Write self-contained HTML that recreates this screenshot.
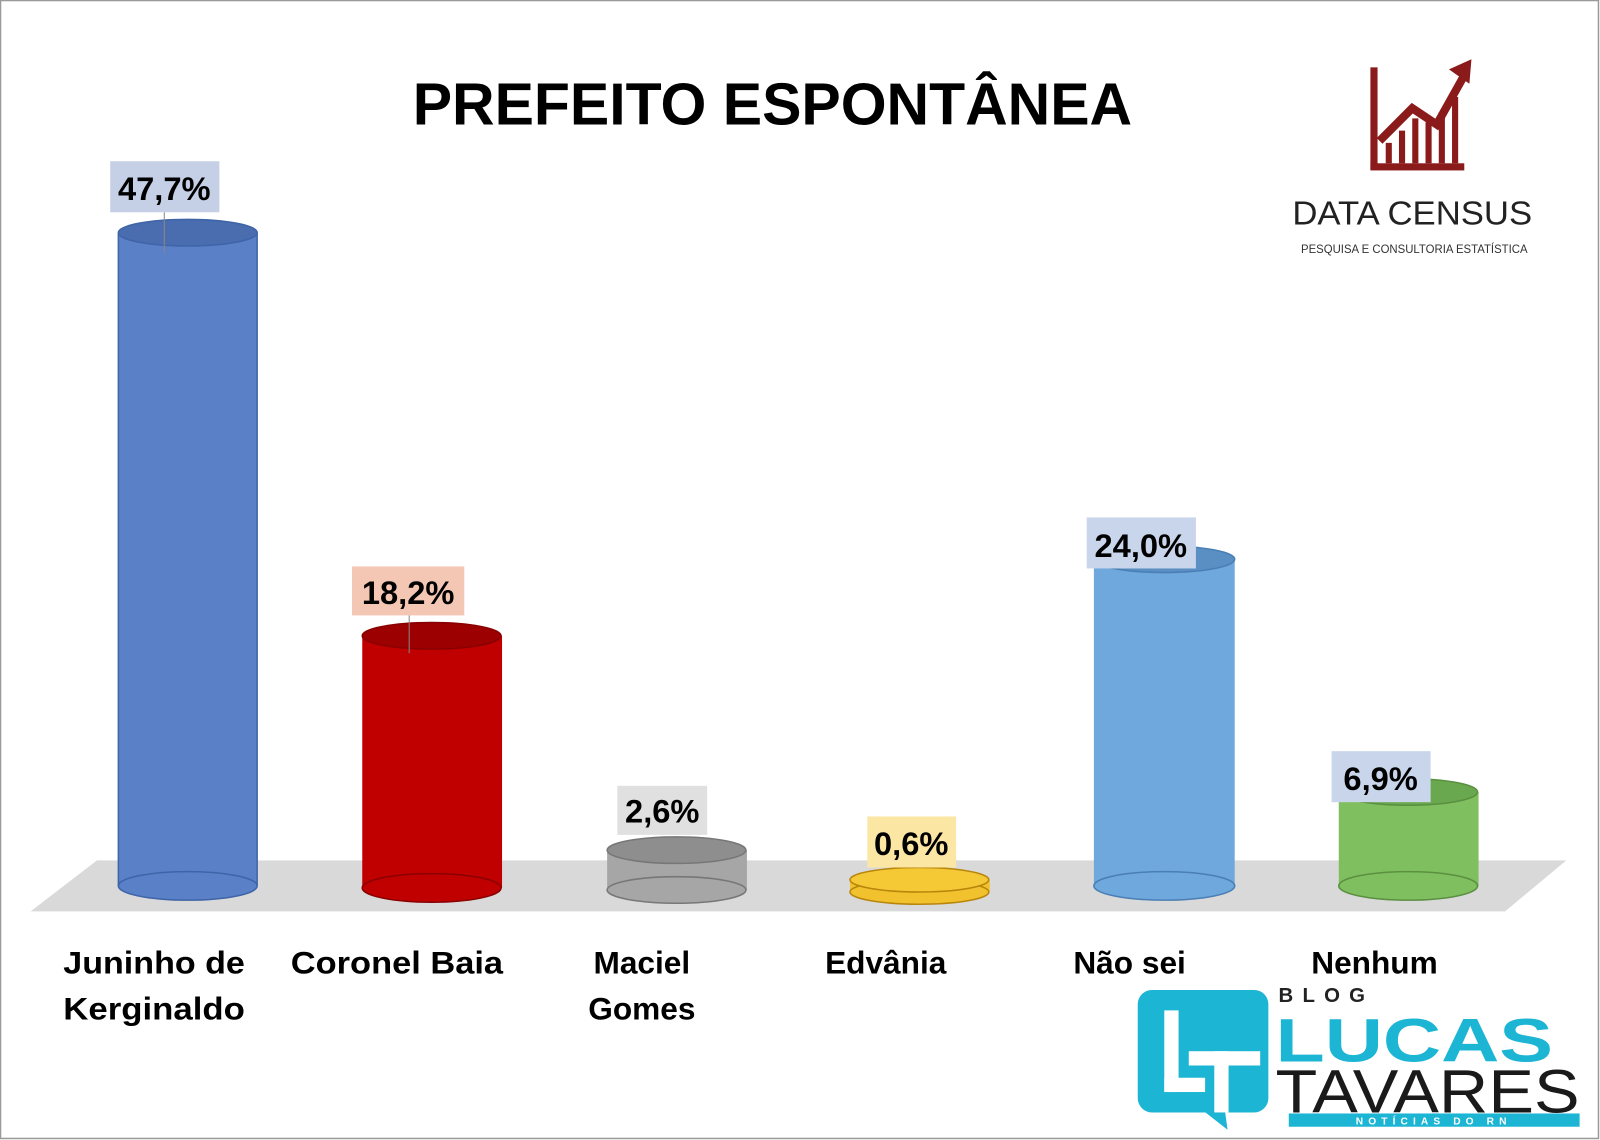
<!DOCTYPE html>
<html><head><meta charset="utf-8"><style>
html,body{margin:0;padding:0;background:#fff}
svg{display:block}
</style></head><body>
<svg width="1600" height="1140" viewBox="0 0 1568 1117" preserveAspectRatio="none" xmlns="http://www.w3.org/2000/svg" font-family="'Liberation Sans', sans-serif">
<rect x="0.5" y="0.5" width="1566" height="1115" fill="#fff" stroke="#9a9a9a" stroke-width="1.5"/>
<text x="757" y="122" text-anchor="middle" font-size="58" font-weight="bold" textLength="705" lengthAdjust="spacingAndGlyphs">PREFEITO ESPONTÂNEA</text>
<polygon points="95,843 1535,843 1475,893 30,893" fill="#d9d9d9"/>
<g stroke-width="1.5">
<rect x="116" y="228" width="136" height="640" fill="#5a80c8"/>
<ellipse cx="184" cy="868" rx="68" ry="14" fill="#5a80c8" stroke="#3f64a8"/>
<ellipse cx="184" cy="228" rx="68" ry="13" fill="#4a6db0" stroke="#3f64a8"/>
<line x1="116" y1="228" x2="116" y2="868" stroke="#3f64a8"/><line x1="252" y1="228" x2="252" y2="868" stroke="#3f64a8"/>

<rect x="355" y="623" width="137" height="247" fill="#c00000"/>
<ellipse cx="423" cy="870" rx="68" ry="14" fill="#c00000" stroke="#8a0000"/>
<ellipse cx="423" cy="623" rx="68" ry="13" fill="#9c0000" stroke="#8a0000"/>

<rect x="595" y="833" width="137" height="39" fill="#a6a6a6"/>
<ellipse cx="663" cy="872" rx="68" ry="13" fill="#a6a6a6" stroke="#777"/>
<ellipse cx="663" cy="833" rx="68" ry="13" fill="#8e8e8e" stroke="#777"/>

<rect x="833" y="862" width="137" height="12" fill="#f2c12e"/>
<ellipse cx="901" cy="874" rx="68" ry="12" fill="#f2c12e" stroke="#b8860b"/>
<ellipse cx="901" cy="862" rx="68" ry="12" fill="#f5c836" stroke="#b8860b"/>

<rect x="1072" y="548" width="138" height="320" fill="#6fa8dc"/>
<ellipse cx="1141" cy="868" rx="69" ry="14" fill="#6fa8dc" stroke="#4a7fb5"/>
<ellipse cx="1141" cy="548" rx="69" ry="13" fill="#5a8fc4" stroke="#4a7fb5"/>

<rect x="1312" y="776" width="137" height="92" fill="#80bf5f"/>
<ellipse cx="1380" cy="868" rx="68" ry="14" fill="#80bf5f" stroke="#5a9040"/>
<ellipse cx="1380" cy="776" rx="68" ry="13" fill="#6aa84f" stroke="#5a9040"/>
</g>
<g font-size="32" font-weight="bold" text-anchor="middle">
<rect x="108" y="158" width="107" height="50" fill="#c5d0e6"/><line x1="161" y1="208" x2="161" y2="248" stroke="#888"/>
<text x="161" y="196">47,7%</text>
<rect x="345" y="555" width="110" height="48" fill="#f4c6b4"/><line x1="401" y1="603" x2="401" y2="640" stroke="#888"/>
<text x="400" y="592">18,2%</text>
<rect x="605" y="770" width="88" height="48" fill="#e0e0e0"/>
<text x="649" y="806">2,6%</text>
<rect x="850" y="800" width="87" height="50" fill="#fbe7a3"/>
<text x="893" y="838">0,6%</text>
<rect x="1065" y="507" width="107" height="50" fill="#c9d5ea"/>
<text x="1118" y="546">24,0%</text>
<rect x="1305" y="736" width="97" height="50" fill="#c9d5ea"/>
<text x="1353" y="774">6,9%</text>
</g>
<g font-size="31" font-weight="bold" text-anchor="middle">
<text x="151" y="954" textLength="178" lengthAdjust="spacingAndGlyphs">Juninho de</text>
<text x="151" y="999" textLength="178" lengthAdjust="spacingAndGlyphs">Kerginaldo</text>
<text x="389" y="954" textLength="208" lengthAdjust="spacingAndGlyphs">Coronel Baia</text>
<text x="629" y="954">Maciel</text>
<text x="629" y="999">Gomes</text>
<text x="868" y="954">Edvânia</text>
<text x="1107" y="954">Não sei</text>
<text x="1347" y="954">Nenhum</text>
</g>
<g fill="#8b1a1a">
<rect x="1343" y="66" width="7" height="100"/>
<rect x="1343" y="160" width="92" height="7"/>
<rect x="1358" y="140" width="6" height="20"/><rect x="1371" y="128" width="6" height="32"/><rect x="1384" y="116" width="6" height="44"/><rect x="1397" y="120" width="6" height="40"/><rect x="1410" y="110" width="6" height="50"/><rect x="1423" y="95" width="6" height="65"/>
<polyline points="1352,138 1384,106 1408,122 1436,72" fill="none" stroke="#8b1a1a" stroke-width="8"/>
<polygon points="1442,58 1420,68 1440,82"/>
</g>
<text x="1384" y="220" text-anchor="middle" font-size="33" fill="#222" textLength="235" lengthAdjust="spacingAndGlyphs">DATA CENSUS</text>
<text x="1386" y="248" text-anchor="middle" font-size="12" fill="#333" textLength="222" lengthAdjust="spacingAndGlyphs">PESQUISA E CONSULTORIA ESTATÍSTICA</text>
<g fill="#1cb5d3">
<rect x="1115" y="970" width="128" height="120" rx="14"/>
<polygon points="1175,1085 1200,1085 1203,1107"/>
</g>
<g fill="#fff">
<rect x="1141" y="990" width="14" height="80"/>
<rect x="1141" y="1056" width="40" height="14"/>
<rect x="1165" y="1030" width="70" height="14"/>
<rect x="1190" y="1030" width="14" height="60"/>
</g>
<text x="1253" y="982" font-size="20" font-weight="bold" fill="#222" letter-spacing="9">BLOG</text>
<text x="1250" y="1040" font-size="60" font-weight="bold" fill="#1cb5d3" textLength="272" lengthAdjust="spacingAndGlyphs">LUCAS</text>
<text x="1250" y="1090" font-size="60" fill="#1a1a1a" textLength="298" lengthAdjust="spacingAndGlyphs">TAVARES</text>
<rect x="1263" y="1091" width="285" height="13" fill="#1cb5d3"/>
<text x="1405" y="1102" text-anchor="middle" font-size="10" font-weight="bold" fill="#fff" letter-spacing="5">NOTÍCIAS DO RN</text>
</svg>
</body></html>
